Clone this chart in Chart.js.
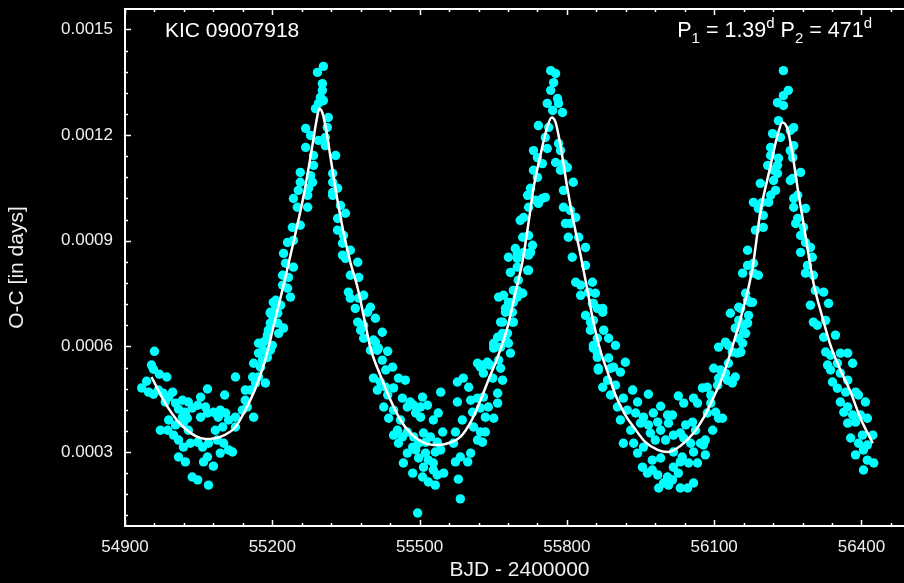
<!DOCTYPE html>
<html>
<head>
<meta charset="utf-8">
<script src="https://cdn.jsdelivr.net/npm/chart.js@4.4.1/dist/chart.umd.min.js"></script>
<style>
  html, body { margin: 0; padding: 0; background: #000; overflow: hidden; }
  #wrap { width: 920px; height: 583px; }
</style>
</head>
<body>
<div id="wrap"><canvas id="oc-graph" width="920" height="583"></canvas></div>
<script>
// KIC 09007918 eclipse timing residuals, O-C in days vs BJD - 2400000
const xTicks = [54900, 55200, 55500, 55800, 56100, 56400];
const yTicks = [0.0003, 0.0006, 0.0009, 0.0012, 0.0015];

// observed minima, grouped by part of the light-time orbit
const obsValley1 = [[54960,0.000586],[54954,0.000547],[54958,0.000535],[54970,0.000521],[54985,0.000513],[54958,0.000464],[54968,0.000476],[54978,0.000467],[54989,0.000456],[54997,0.000470],[54982,0.000442],[55003,0.000439],[55017,0.000447],[55029,0.000442],[55009,0.000422],[55023,0.000413],[55037,0.000425],[54989,0.000391],[54972,0.000362],[54987,0.000362],[55003,0.000377],[55019,0.000382],[55029,0.000362],[54999,0.000348],[55009,0.000334],[55019,0.000314],[55033,0.000325],[55048,0.000328],[55058,0.000314],[55070,0.000325],[55088,0.000334],[55101,0.000325],[55111,0.000306],[55119,0.000300],[55009,0.000286],[55023,0.000272],[55060,0.000272],[55068,0.000286],[55080,0.000260],[55094,0.000297],[55037,0.000229],[55048,0.000221],[55070,0.000206],[55054,0.000399],[55068,0.000411],[55080,0.000413],[55094,0.000419],[55105,0.000411],[55054,0.000456],[55068,0.000479],[55103,0.000462],[55125,0.000513],[55111,0.000391],[55125,0.000399],[55139,0.000419],[55149,0.000428],[55162,0.000399],[55125,0.000371],[55145,0.000447],[55145,0.000476],[55156,0.000476],[55166,0.000496],[55172,0.000513],[55160,0.000513],[55186,0.000496],[55176,0.000541],[55162,0.000552],[55172,0.000581],[55182,0.000589],[55172,0.000609],[55190,0.000626],[55192,0.000646],[55196,0.000666],[55200,0.000688],[55196,0.000697],[55190,0.000569],[55180,0.000561],[55202,0.000725],[55084,0.000362],[55099,0.000371],[55090,0.000399],[55064,0.000428],[55048,0.000433],[55017,0.000399],[55027,0.000396],[54944,0.000501],[54948,0.000470],[54934,0.000482]];

const obsPeak1 = [[55304,0.001395],[55292,0.001378],[55302,0.001346],[55302,0.001327],[55298,0.001307],[55304,0.001298],[55294,0.001290],[55288,0.001275],[55314,0.001250],[55312,0.001222],[55268,0.001219],[55278,0.001199],[55294,0.001185],[55308,0.001193],[55268,0.001165],[55308,0.001170],[55284,0.001142],[55329,0.001142],[55284,0.001114],[55257,0.001094],[55278,0.001085],[55257,0.001066],[55282,0.001066],[55323,0.001091],[55323,0.001066],[55253,0.001043],[55274,0.001049],[55243,0.001020],[55272,0.001029],[55251,0.000995],[55272,0.000995],[55323,0.001037],[55333,0.001049],[55323,0.001029],[55339,0.001000],[55349,0.000978],[55333,0.000963],[55241,0.000938],[55257,0.000944],[55333,0.000930],[55345,0.000915],[55231,0.000895],[55243,0.000901],[55343,0.000893],[55223,0.000864],[55343,0.000859],[55359,0.000873],[55227,0.000836],[55243,0.000825],[55349,0.000850],[55374,0.000839],[55221,0.000802],[55233,0.000796],[55359,0.000802],[55376,0.000796],[55221,0.000774],[55231,0.000765],[55355,0.000754],[55386,0.000745],[55207,0.000731],[55237,0.000740],[55359,0.000737],[55376,0.000737],[55207,0.000708],[55217,0.000717],[55369,0.000708],[55394,0.000697],[55196,0.000694],[55211,0.000694],[55410,0.000680],[55211,0.000666],[55223,0.000652],[55374,0.000669],[55386,0.000660],[55190,0.000632],[55213,0.000637],[55380,0.000646],[55424,0.000640],[55182,0.000612],[55200,0.000603],[55386,0.000623],[55410,0.000612],[55196,0.000589],[55400,0.000589],[55416,0.000595],[55435,0.000586]];

const obsValley2 = [[55400,0.000711],[55406,0.000618],[55414,0.000589],[55424,0.000561],[55445,0.000541],[55431,0.000533],[55406,0.000510],[55420,0.000499],[55457,0.000510],[55471,0.000504],[55414,0.000476],[55431,0.000484],[55447,0.000482],[55435,0.000462],[55465,0.000453],[55481,0.000442],[55506,0.000456],[55543,0.000470],[55427,0.000428],[55447,0.000419],[55475,0.000428],[55488,0.000433],[55502,0.000428],[55516,0.000433],[55437,0.000396],[55461,0.000391],[55492,0.000411],[55502,0.000399],[55538,0.000411],[55528,0.000391],[55455,0.000362],[55475,0.000357],[55447,0.000348],[55465,0.000343],[55488,0.000343],[55508,0.000354],[55522,0.000343],[55547,0.000357],[55457,0.000325],[55486,0.000314],[55498,0.000325],[55512,0.000328],[55536,0.000328],[55475,0.000297],[55492,0.000306],[55512,0.000297],[55532,0.000300],[55543,0.000306],[55467,0.000269],[55498,0.000283],[55518,0.000277],[55528,0.000269],[55508,0.000257],[55528,0.000249],[55486,0.000240],[55506,0.000229],[55536,0.000235],[55549,0.000240],[55518,0.000215],[55532,0.000206],[55579,0.000223],[55583,0.000167],[55496,0.000127],[55573,0.000357],[55587,0.000391],[55577,0.000442],[55604,0.000447],[55589,0.000510],[55577,0.000499],[55600,0.000484],[55618,0.000453],[55630,0.000456],[55608,0.000413],[55624,0.000425],[55640,0.000428],[55659,0.000439],[55634,0.000399],[55651,0.000396],[55659,0.000467],[55610,0.000371],[55624,0.000357],[55634,0.000357],[55618,0.000334],[55628,0.000328],[55604,0.000297],[55598,0.000272],[55573,0.000272],[55583,0.000286],[55569,0.000325],[55618,0.000552],[55630,0.000547],[55644,0.000547],[55630,0.000524],[55649,0.000510],[55669,0.000504],[55651,0.000603],[55665,0.000598],[55685,0.000581],[55659,0.000626],[55675,0.000618],[55669,0.000669],[55691,0.000669],[55675,0.000708],[55685,0.000723],[55661,0.000740],[55671,0.000745],[55699,0.000740],[55691,0.000759],[55705,0.000751],[55701,0.000788],[55685,0.000810],[55720,0.000816],[55681,0.000853],[55699,0.000864],[55726,0.000867]];

const obsPeak2 = [[55767,0.001383],[55777,0.001375],[55773,0.001349],[55767,0.001327],[55781,0.001304],[55760,0.001290],[55783,0.001290],[55771,0.001270],[55791,0.001264],[55742,0.001227],[55763,0.001222],[55756,0.001193],[55783,0.001176],[55732,0.001156],[55760,0.001162],[55787,0.001156],[55740,0.001136],[55750,0.001119],[55777,0.001122],[55793,0.001119],[55732,0.001100],[55787,0.001100],[55801,0.001108],[55740,0.001080],[55726,0.001049],[55813,0.001066],[55793,0.001043],[55720,0.001029],[55736,0.001015],[55750,0.001020],[55756,0.001023],[55722,0.000995],[55742,0.001006],[55793,0.000995],[55807,0.000986],[55712,0.000966],[55705,0.000958],[55818,0.000966],[55797,0.000949],[55807,0.000949],[55722,0.000915],[55710,0.000910],[55803,0.000910],[55824,0.000910],[55730,0.000887],[55838,0.000881],[55695,0.000878],[55712,0.000867],[55811,0.000853],[55722,0.000859],[55699,0.000850],[55838,0.000830],[55699,0.000825],[55722,0.000816],[55818,0.000782],[55828,0.000774],[55699,0.000759],[55710,0.000751],[55828,0.000745],[55844,0.000754],[55681,0.000725],[55691,0.000725],[55852,0.000722],[55862,0.000708],[55675,0.000697],[55689,0.000697],[55838,0.000688],[55873,0.000697],[55665,0.000669],[55689,0.000669],[55848,0.000669],[55669,0.000637],[55679,0.000637],[55848,0.000646],[55875,0.000646],[55651,0.000609],[55681,0.000609],[55862,0.000623],[55885,0.000623],[55651,0.000595],[55854,0.000595],[55899,0.000603],[55638,0.000555],[55661,0.000561],[55862,0.000569],[55624,0.000541],[55665,0.000538],[55864,0.000538],[55889,0.000538]];

const obsValley3 = [[55852,0.000782],[55858,0.000751],[55873,0.000708],[55854,0.000722],[55854,0.000674],[55854,0.000603],[55862,0.000581],[55885,0.000567],[55895,0.000541],[55919,0.000555],[55909,0.000527],[55864,0.000533],[55883,0.000504],[55873,0.000484],[55899,0.000490],[55889,0.000462],[55915,0.000453],[55934,0.000476],[55966,0.000464],[55903,0.000428],[55944,0.000442],[55923,0.000419],[55940,0.000411],[55956,0.000399],[55976,0.000411],[55991,0.000430],[56005,0.000405],[56015,0.000405],[55909,0.000391],[55950,0.000382],[55966,0.000377],[55985,0.000385],[56007,0.000382],[55930,0.000362],[55970,0.000354],[55991,0.000362],[56017,0.000348],[55915,0.000325],[55936,0.000325],[55956,0.000314],[55980,0.000334],[56001,0.000334],[56031,0.000354],[56042,0.000377],[56056,0.000385],[56062,0.000362],[56038,0.000340],[56052,0.000325],[55944,0.000297],[55974,0.000277],[55991,0.000283],[56017,0.000300],[56035,0.000286],[56072,0.000325],[56082,0.000334],[55954,0.000257],[55974,0.000249],[55985,0.000235],[56005,0.000229],[56017,0.000257],[56031,0.000272],[56048,0.000269],[56066,0.000269],[56082,0.000292],[55964,0.000240],[55997,0.000212],[56015,0.000221],[55987,0.000198],[56007,0.000206],[56031,0.000198],[56046,0.000198],[56058,0.000212],[56027,0.000240],[56058,0.000300],[56078,0.000320],[56097,0.000362],[56109,0.000396],[56103,0.000413],[56117,0.000396],[56086,0.000411],[56093,0.000439],[56066,0.000439],[56058,0.000453],[56027,0.000459],[56038,0.000439],[56076,0.000482],[56093,0.000462],[56086,0.000484],[56107,0.000490],[56109,0.000510],[56127,0.000504],[56123,0.000524],[56137,0.000496],[56143,0.000513],[56099,0.000538],[56113,0.000533],[56129,0.000552],[56147,0.000581],[56109,0.000598],[56123,0.000612],[56137,0.000584],[56154,0.000584],[56129,0.000603],[56150,0.000623],[56143,0.000652],[56160,0.000640],[56150,0.000674],[56168,0.000666],[56133,0.000694],[56170,0.000688],[56150,0.000711],[56168,0.000731],[56178,0.000725],[56164,0.000751],[56158,0.000808],[56180,0.000808]];

const obsPeak3 = [[56241,0.001383],[56251,0.001327],[56241,0.001312],[56229,0.001292],[56241,0.001284],[56231,0.001241],[56262,0.001221],[56219,0.001204],[56255,0.001213],[56235,0.001193],[56262,0.001170],[56215,0.001165],[56255,0.001156],[56215,0.001142],[56231,0.001134],[56260,0.001136],[56209,0.001114],[56229,0.001114],[56221,0.001100],[56229,0.001091],[56276,0.001094],[56260,0.001077],[56194,0.001063],[56221,0.001071],[56255,0.001071],[56225,0.001043],[56215,0.001029],[56270,0.001029],[56180,0.001009],[56198,0.001009],[56211,0.001009],[56262,0.001020],[56190,0.000992],[56286,0.000992],[56262,0.000995],[56200,0.000972],[56270,0.000963],[56266,0.000949],[56282,0.000938],[56184,0.000930],[56200,0.000938],[56276,0.000915],[56286,0.000895],[56296,0.000881],[56276,0.000867],[56168,0.000873],[56300,0.000853],[56180,0.000836],[56168,0.000830],[56290,0.000830],[56190,0.000802],[56286,0.000808],[56302,0.000802],[56306,0.000759],[56323,0.000754],[56174,0.000725],[56333,0.000722],[56296,0.000717],[56327,0.000674],[56302,0.000669],[56310,0.000660],[56154,0.000708],[56160,0.000660],[56164,0.000637],[56323,0.000626],[56347,0.000632],[56158,0.000609],[56154,0.000584],[56327,0.000584],[56337,0.000575],[56357,0.000581],[56372,0.000581],[56331,0.000547],[56351,0.000552],[56382,0.000552],[56337,0.000533],[56357,0.000524],[56341,0.000499],[56372,0.000504],[56351,0.000481],[56368,0.000470],[56388,0.000470],[56394,0.000462],[56357,0.000442],[56372,0.000428],[56408,0.000442],[56364,0.000413],[56382,0.000405],[56398,0.000405],[56412,0.000396],[56372,0.000382],[56388,0.000385],[56378,0.000340],[56402,0.000348],[56423,0.000348],[56394,0.000325],[56412,0.000320],[56404,0.000306],[56388,0.000292],[56412,0.000277],[56425,0.000269],[56404,0.000249]];

// fitted light-time curve
const fitBjd = [54954,54982,55013,55044,55064,55094,55125,55145,55166,55186,55202,55223,55243,55264,55280,55290,55296,55302,55310,55318,55331,55345,55359,55374,55388,55400,55420,55441,55461,55481,55506,55528,55553,55583,55604,55624,55640,55659,55679,55695,55710,55722,55732,55746,55758,55769,55777,55787,55801,55813,55828,55842,55854,55868,55883,55899,55919,55936,55960,55985,56005,56031,56058,56078,56099,56117,56133,56154,56178,56194,56215,56229,56239,56249,56260,56270,56286,56302,56321,56337,56357,56378,56398,56423];
const fitOc = [0.000513,0.000439,0.000379,0.000345,0.000337,0.000343,0.000371,0.000419,0.000482,0.000564,0.000654,0.000774,0.000895,0.001029,0.001156,0.001241,0.001275,0.001264,0.001213,0.001142,0.001029,0.000924,0.000839,0.000765,0.000674,0.000595,0.000518,0.000447,0.000391,0.000354,0.000328,0.000320,0.000323,0.000343,0.000385,0.000447,0.000504,0.000569,0.000654,0.000751,0.000844,0.000952,0.001049,0.001142,0.001213,0.001250,0.001236,0.001170,0.001049,0.000958,0.000859,0.000759,0.000669,0.000589,0.000527,0.000462,0.000405,0.000371,0.000328,0.000306,0.000300,0.000317,0.000354,0.000396,0.000456,0.000513,0.000581,0.000680,0.000822,0.000980,0.001114,0.001199,0.001236,0.001219,0.001142,0.001049,0.000915,0.000782,0.000680,0.000603,0.000533,0.000470,0.000396,0.000325];

const xMin = 54900, xMax = 56507, xMinor = 60;
const yMin = 0.00009, yMax = 0.001558, yMinor = 0.00006;

const font = "'Liberation Sans', Arial, sans-serif";
const toPoints = arr => arr.map(p => ({ x: p[0], y: p[1] }));
const observed = [].concat(obsValley1, obsPeak1, obsValley2, obsPeak2, obsValley3, obsPeak3);

// no extra room for tick labels beyond the axis boxes
const noLabelPadding = s => {
    s.paddingTop = 0; s.paddingBottom = 0; s.paddingLeft = 0; s.paddingRight = 0;
};

// frame, inward major/minor ticks, and the two labels inside the plot
const framePlugin = {
    id: 'frame',
    beforeDraw(chart) {
        const c = chart.ctx;
        c.save();
        c.fillStyle = '#000';
        c.fillRect(0, 0, chart.width, chart.height);
        c.restore();
    },
    afterDraw(chart) {
        const c = chart.ctx;
        const a = chart.chartArea;
        const xs = chart.scales.x, ys = chart.scales.y;
        c.save();
        c.strokeStyle = '#fff';
        c.lineWidth = 2;
        c.strokeRect(a.left, a.top, a.right - a.left, a.bottom - a.top);
        c.lineWidth = 1.5;
        c.beginPath();
        for (let v = xMin; v <= xMax; v += xMinor) {
            const px = Math.round(xs.getPixelForValue(v)) + 0.5;
            const len = (v - xMin) % 300 === 0 ? 6 : 3;
            c.moveTo(px, a.bottom); c.lineTo(px, a.bottom - len);
            c.moveTo(px, a.top); c.lineTo(px, a.top + len);
        }
        for (let i = 0; ; i++) {
            const v = 0.0003 + (i - 3) * yMinor;
            if (v > yMax) break;
            if (v < yMin) continue;
            const py = Math.round(ys.getPixelForValue(v)) + 0.5;
            const len = (i - 3) % 5 === 0 ? 6 : 3;
            c.moveTo(a.left, py); c.lineTo(a.left + len, py);
        }
        c.stroke();

        c.fillStyle = '#fff';
        c.textBaseline = 'alphabetic';
        c.font = '21px ' + font;
        c.fillText('KIC 09007918', a.left + 40, a.top + 28);

        // P1 = 1.39^d P2 = 471^d, right-aligned
        const big = '21.5px ' + font, small = '15px ' + font;
        const parts = [
            ['P', big, 0], ['1', small, 6], [' = 1.39', big, 0], ['d', small, -9],
            [' P', big, 0], ['2', small, 6], [' = 471', big, 0], ['d', small, -9]
        ];
        let total = 0;
        parts.forEach(p => { c.font = p[1]; total += c.measureText(p[0]).width; });
        let x = a.left + 747 - total;
        parts.forEach(p => {
            c.font = p[1];
            c.fillText(p[0], x, a.top + 28 + p[2]);
            x += c.measureText(p[0]).width;
        });
        c.restore();
    }
};

const ctx = document.getElementById('oc-graph').getContext('2d');
const ocChart = new Chart(ctx, {
    type: 'scatter',
    data: {
        datasets: [{
            label: 'fit',
            data: fitBjd.map((b, i) => ({ x: b, y: fitOc[i] })),
            showLine: true,
            borderColor: '#ffffff',
            borderWidth: 2.5,
            pointRadius: 0,
            cubicInterpolationMode: 'monotone',
            order: 0
        }, {
            label: 'O-C',
            data: toPoints(observed),
            backgroundColor: '#00ffff',
            borderWidth: 0,
            pointRadius: 4.7,
            order: 1
        }]
    },
    options: {
        responsive: false,
        animation: false,
        layout: { padding: { left: 0, top: 9, right: 6, bottom: 0 } },
        plugins: { legend: { display: false }, tooltip: { enabled: false } },
        scales: {
            x: {
                type: 'linear',
                min: xMin,
                max: xMax,
                afterBuildTicks: s => { s.ticks = xTicks.map(v => ({ value: v })); },
                afterFit: s => { s.height = 57; noLabelPadding(s); },
                grid: { display: false },
                border: { display: false },
                ticks: { color: '#f0f0f0', font: { family: font, size: 17 }, padding: 3, maxRotation: 0, callback: v => String(v) },
                title: { display: true, text: 'BJD - 2400000', color: '#f0f0f0', font: { family: font, size: 21 }, padding: { top: 0, bottom: 0 } }
            },
            y: {
                min: yMin,
                max: yMax,
                afterBuildTicks: s => { s.ticks = yTicks.map(v => ({ value: v })); },
                afterFit: s => { s.width = 125; noLabelPadding(s); },
                grid: { display: false },
                border: { display: false },
                ticks: { color: '#f0f0f0', font: { family: font, size: 17 }, padding: 4, callback: v => v.toFixed(4) },
                title: { display: true, text: 'O-C [in days]', color: '#f0f0f0', font: { family: font, size: 21 }, padding: { top: 5, bottom: 0 } }
            }
        }
    },
    plugins: [framePlugin]
});
</script>
</body>
</html>
